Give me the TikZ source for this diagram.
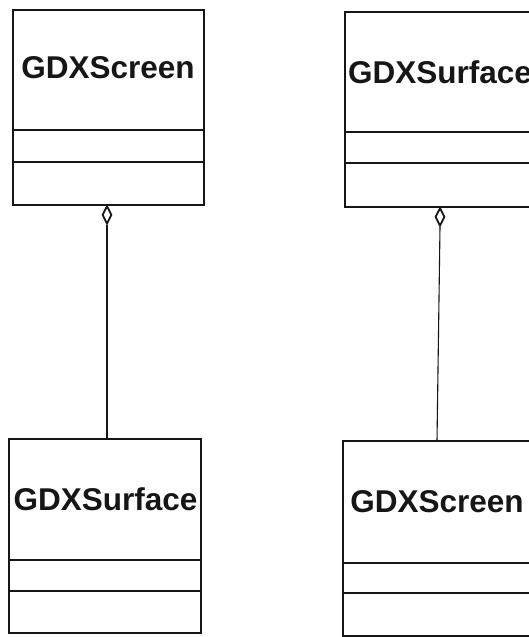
\documentclass[tikz,border=0pt]{standalone}
\usepackage{fontspec}
\setmainfont{Liberation Sans}
\usetikzlibrary{shapes.geometric,calc}
\definecolor{ink}{HTML}{161616}
\tikzset{
  classbox/.style={draw=ink, line width=2pt, rectangle, inner sep=0pt},
  classname/.style={font=\fontsize{31.5}{36}\selectfont\bfseries, text=ink, inner sep=0pt},
  sepline/.style={draw=ink, line width=1.8pt},
  link/.style={draw=ink, line width=1.1pt},
  aggr/.style={draw=ink, line width=1.8pt, diamond, fill=white, inner sep=0pt,
               minimum width=9.5pt, minimum height=18pt, anchor=north},
}
\begin{document}
\begin{tikzpicture}[x=1pt, y=-1pt]
  \clip (0,0) rectangle (529,637);
  \fill[white] (0,0) rectangle (529,637);

  % upper left class
  \path[classbox] (13,9.5) rectangle (204,205);
  \coordinate (tlbot) at (107,205);
  \node[classname] (tlname) at (108,68) {GDXScreen};
  \draw[sepline] (13,130) -- (204,130);
  \draw[sepline] (13,162) -- (204,162);

  % lower left class
  \path[classbox] (9,439) rectangle (201,633);
  \coordinate (bltop) at (107,439);
  \node[classname] (blname) at (105.5,499) {GDXSurface};
  \draw[sepline] (9,560) -- (201,560);
  \draw[sepline] (9,591) -- (201,591);

  % upper right class
  \path[classbox] (345,12) rectangle (540,207);
  \coordinate (trbot) at (440,207);
  \node[classname] (trname) at (440,72) {GDXSurface};
  \draw[sepline] (345,132) -- (540,132);
  \draw[sepline] (345,163) -- (540,163);

  % lower right class
  \path[classbox] (343,441) rectangle (540,636);
  \coordinate (brtop) at (437,441);
  \node[classname] (brname) at (437,502) {GDXScreen};
  \draw[sepline] (343,563) -- (540,563);
  \draw[sepline] (343,593) -- (540,593);

  % aggregations
  \node[aggr] (dl) at (tlbot) {};
  \draw[link] (dl.south) -- (bltop);
  \node[aggr] (dr) at (trbot) {};
  \draw[link] (dr.south) -- (brtop);
\end{tikzpicture}
\end{document}
